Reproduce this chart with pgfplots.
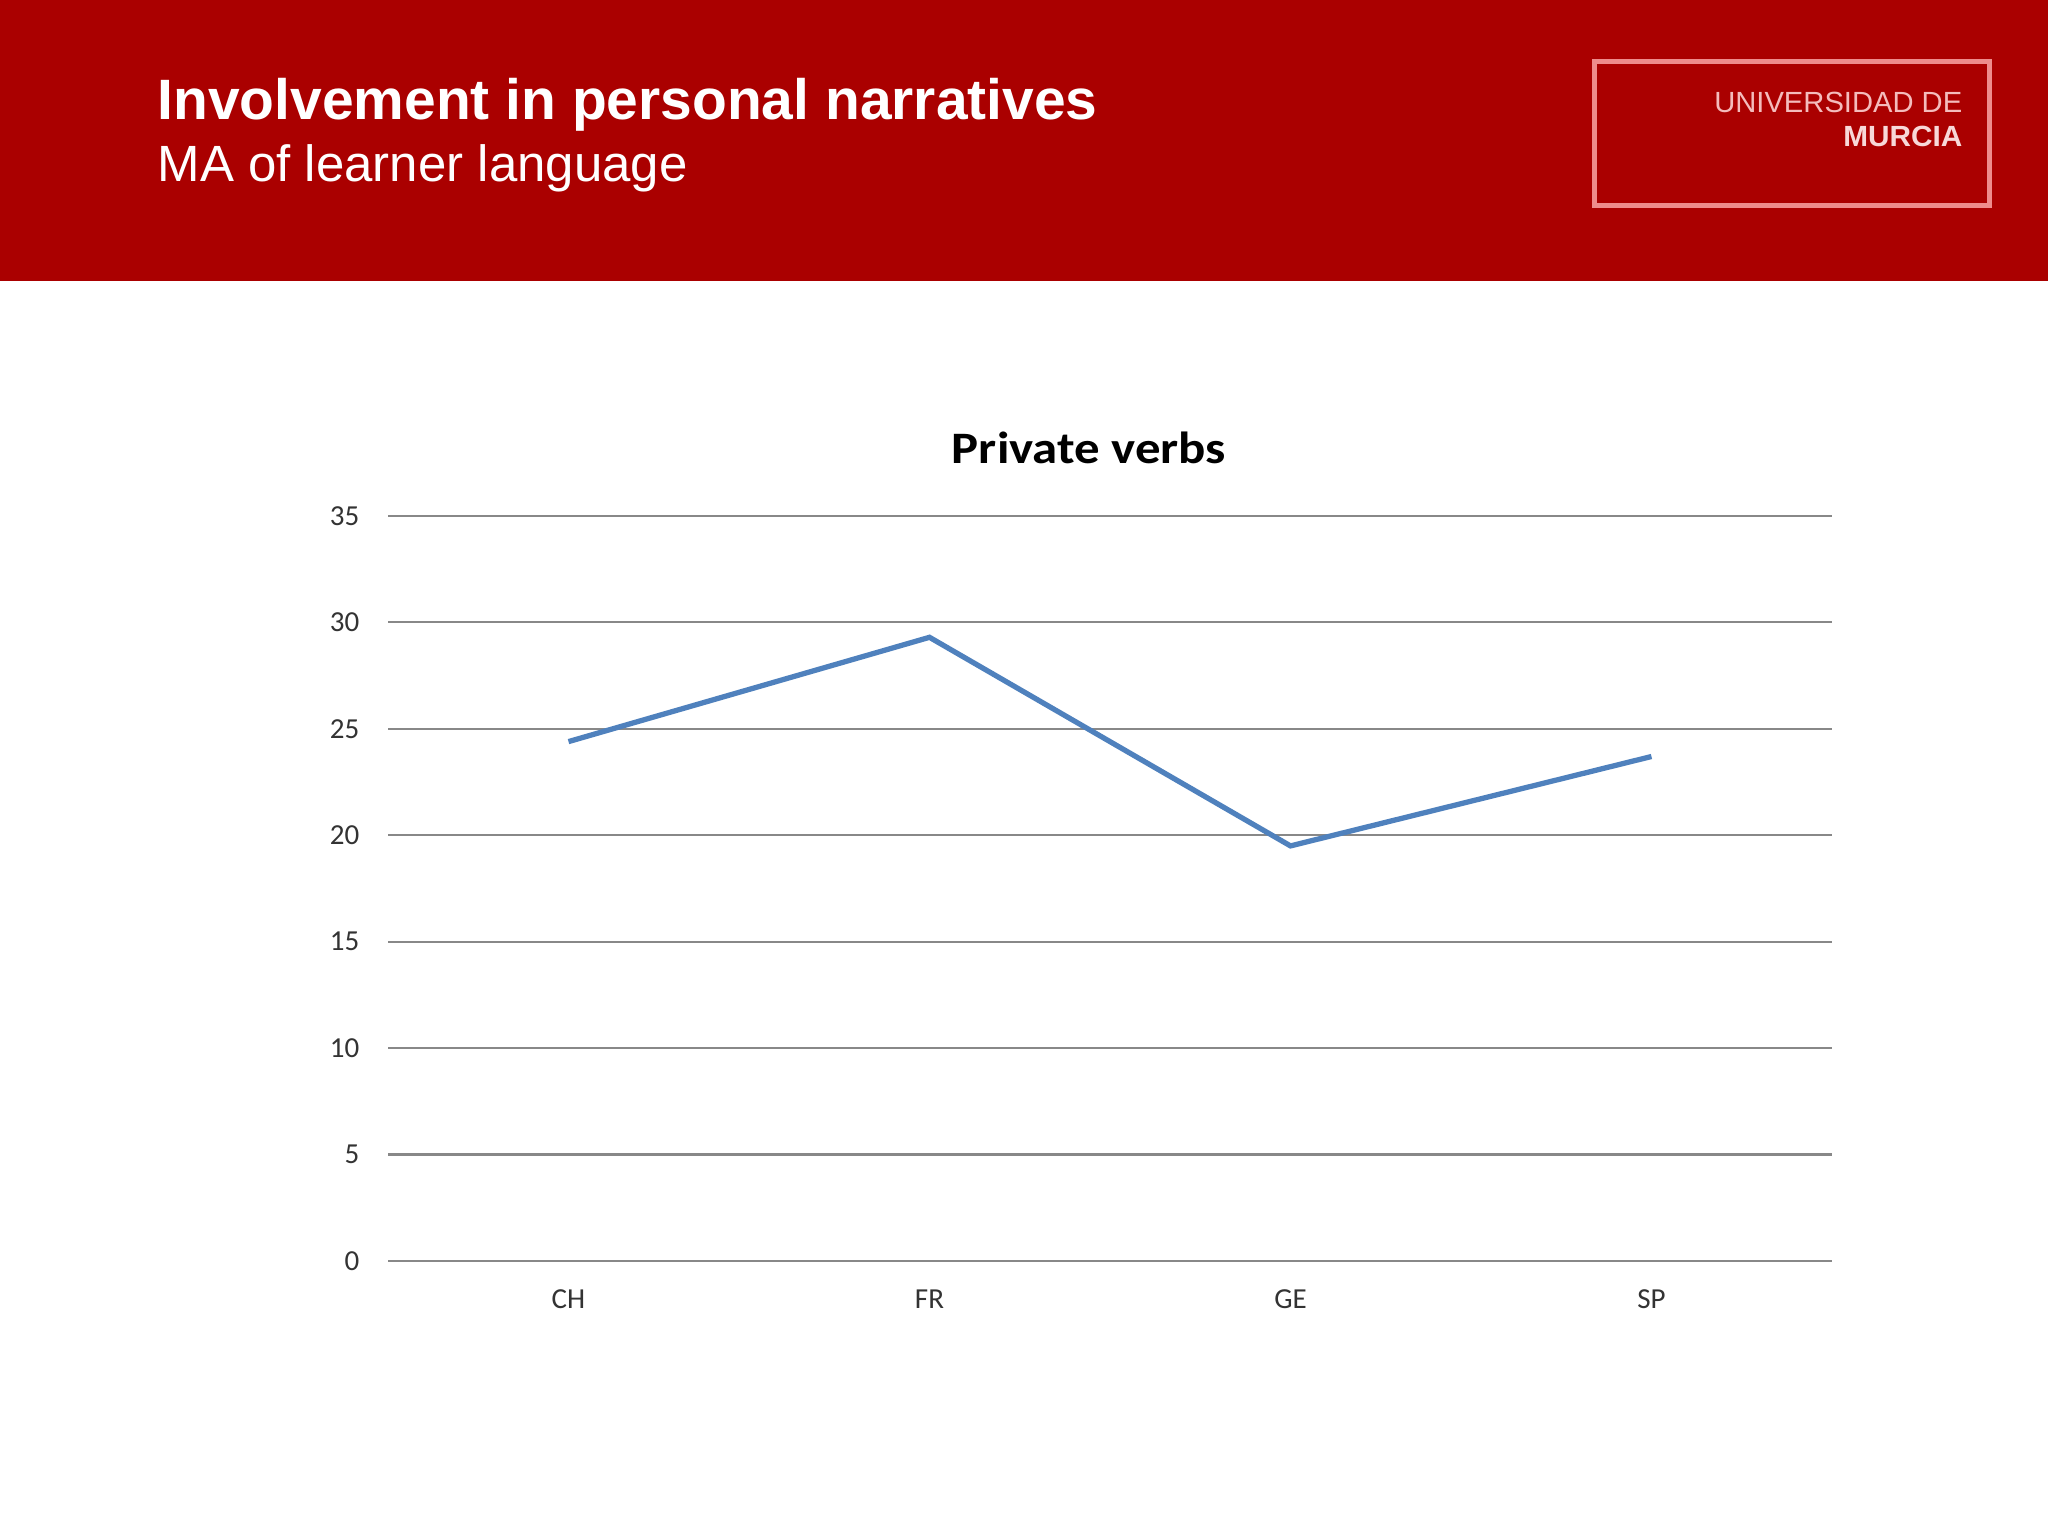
\documentclass[border=0pt]{standalone}
\usepackage{pgfplots}
\pgfplotsset{compat=1.18}
\usepackage{fontspec}
\setmainfont{Carlito}
\newfontfamily\arial{Liberation Sans}
\definecolor{hdrred}{HTML}{AA0000}
\definecolor{lineblue}{HTML}{4F81BD}
\definecolor{gridgray}{HTML}{888888}
\definecolor{logoline}{HTML}{EE8C8C}
\definecolor{logotext}{HTML}{F4BCBC}
\definecolor{logotextb}{HTML}{F8D8D8}
\begin{document}
\begin{tikzpicture}
\fill[white] (0,0) rectangle (20.48,15.36);
\fill[hdrred] (0,12.55) rectangle (20.48,15.36);
\node[anchor=base west, inner sep=0pt, text=white, font=\arial\bfseries\fontsize{16.2}{18}\selectfont] at (1.57,14.16) {Involvement in personal narratives};
\node[anchor=base west, inner sep=0pt, text=white, font=\arial\fontsize{14.5}{17}\selectfont] at (1.57,13.54) {MA of learner language};
\draw[logoline, line width=0.05cm] (15.94,13.30) rectangle (19.89,14.74);
\node[anchor=base east, inner sep=0pt, text=logotext, font=\arial\fontsize{8.3}{10}\selectfont] at (19.63,14.23) {\scalebox{1.0}[1]{UNIVERSIDAD DE}};
\node[anchor=base east, inner sep=0pt, text=logotextb, font=\arial\bfseries\fontsize{8.3}{10}\selectfont] at (19.63,13.89) {\scalebox{1.02}[1]{MURCIA}};
\node[anchor=base, inner sep=0pt, font=\bfseries\fontsize{12.8}{15}\selectfont] at (10.89,10.72) {\scalebox{1.13}[1]{Private verbs}};
\begin{axis}[
  at={(3.88cm,2.75cm)}, anchor=south west,
  scale only axis, width=14.44cm, height=7.45cm,
  xmin=-0.5, xmax=3.5, ymin=0, ymax=35,
  xtick={0,1,2,3}, xticklabels={CH,FR,GE,SP},
  ytick={0,5,...,35},
  axis line style={draw=none},
  axis x line*=bottom,
  major tick length=0pt,
  ymajorgrids, grid style={gridgray, line width=0.6pt},
  /pgf/number format/assume math mode=true,
  tick label style={font=\fontsize{8.25}{10}\selectfont, text=black!80},
  y tick label style={anchor=east, inner sep=0pt, xshift=-0.28cm},
  x tick label style={anchor=north, inner sep=0pt, yshift=-0.28cm},
  clip=false,
]
\addplot[lineblue, line width=1.5pt, mark=none] coordinates {(0,24.4) (1,29.3) (2,19.5) (3,23.7)};
\end{axis}
\end{tikzpicture}
\end{document}
